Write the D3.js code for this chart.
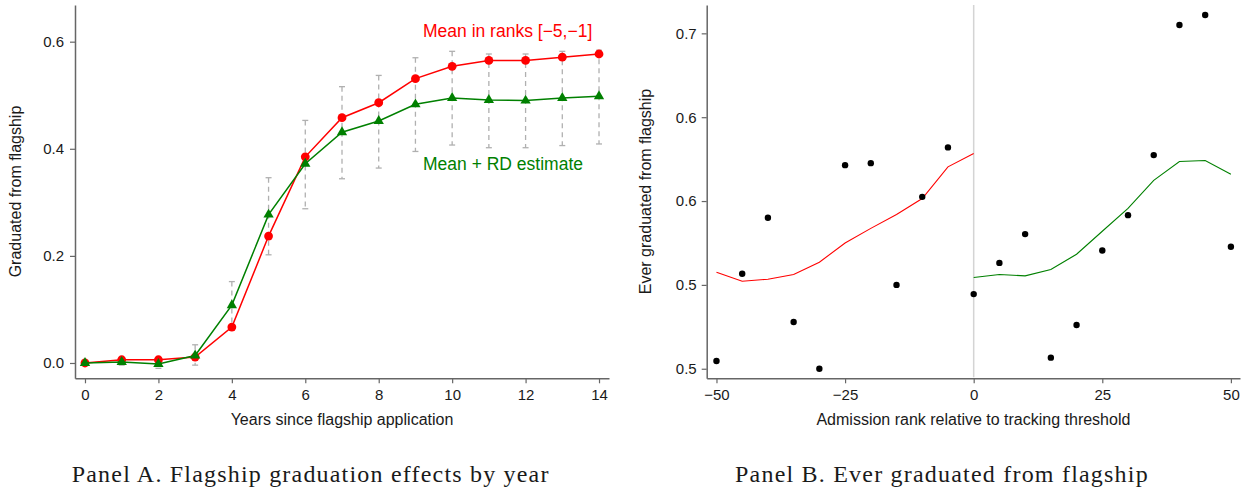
<!DOCTYPE html>
<html>
<head>
<meta charset="utf-8">
<script src="https://cdn.jsdelivr.net/npm/d3@7"></script>
<style>
  html, body { margin: 0; padding: 0; background: #fff; }
  svg { display: block; }
  .tick text { font-family: "Liberation Sans", Arial, sans-serif; font-size: 15px; fill: #1a1a1a; }
  .axis-title { font-family: "Liberation Sans", Arial, sans-serif; font-size: 16px; fill: #1a1a1a; }
  .caption { font-family: "Liberation Serif", "Times New Roman", serif; font-size: 24px; fill: #1a1a1a; }
</style>
</head>
<body>
<svg id="chart" width="1247" height="489"></svg>
<script>
// Panel A: graduation from flagship by years since application
const years = [0, 1, 2, 3, 4, 5, 6, 7, 8, 9, 10, 11, 12, 13, 14];
const meanRanks = [0.000, 0.006, 0.006, 0.011, 0.067, 0.237, 0.385, 0.458, 0.486, 0.531, 0.554, 0.565, 0.565, 0.571, 0.577];
const rdEstimate = [0.000, 0.002, -0.002, 0.014, 0.108, 0.277, 0.372, 0.431, 0.452, 0.483, 0.495, 0.491, 0.490, 0.495, 0.498];
const ciLow = [0.000, -0.004, -0.010, -0.004, 0.064, 0.202, 0.288, 0.344, 0.364, 0.395, 0.407, 0.402, 0.402, 0.406, 0.409];
const ciHigh = [0.000, 0.008, 0.006, 0.034, 0.152, 0.346, 0.453, 0.516, 0.537, 0.570, 0.582, 0.577, 0.577, 0.582, 0.584];
const yearTicks = [0, 2, 4, 6, 8, 10, 12, 14];
const shareTicksA = [0, 0.2, 0.4, 0.6];

// Panel B: ever graduated, binned by admission rank
const ranks = [-50, -45, -40, -35, -30, -25, -20, -15, -10, -5, 0, 5, 10, 15, 20, 25, 30, 35, 40, 45, 50];
const gradShare = [0.4546, 0.5066, 0.5400, 0.4779, 0.4500, 0.5714, 0.5726, 0.5000, 0.5525, 0.5820,
                   0.4945, 0.5131, 0.5303, 0.4566, 0.4761, 0.5205, 0.5416, 0.5774, 0.6550, 0.6609, 0.5227];
const fitLeftX = [-50, -45, -40, -35, -30, -25, -20, -15, -10, -5, 0];
const fitLeft = [0.5076, 0.5022, 0.5034, 0.5062, 0.5135, 0.5250, 0.5337, 0.5420, 0.5515, 0.5704, 0.5784];
const fitRightX = [0, 5, 10, 15, 20, 25, 30, 35, 40, 45, 50];
const fitRight = [0.5044, 0.5062, 0.5054, 0.5092, 0.5183, 0.5320, 0.5456, 0.5623, 0.5736, 0.5742, 0.5660];
const rankTicks = [-50, -25, 0, 25, 50];
const shareTicksB = [0.45, 0.50, 0.55, 0.60, 0.65];
const shareTickLabelsB = ["0.5", "0.5", "0.6", "0.6", "0.7"];

const RED = "#ff0000", GREEN = "#008000", AXIS = "#666666";
const svg = d3.select("#chart");
const minus = s => String(s).replace("-", "\u2212");

function styleAxis(g) {
  g.select(".domain").attr("stroke", AXIS).attr("stroke-width", 1.5);
  g.selectAll(".tick line").attr("stroke", AXIS).attr("stroke-width", 1.2);
}

// ---------- Panel A ----------
const xA = d3.scaleLinear().domain([-0.272, 14.272]).range([75, 609]);
const yA = d3.scaleLinear().domain([-0.0286, 0.6685]).range([378.3, 5]);
const gA = svg.append("g");

gA.append("g").attr("transform", "translate(0,378.3)")
  .call(d3.axisBottom(xA).tickValues(yearTicks).tickSize(5).tickPadding(6).tickSizeOuter(0))
  .call(styleAxis);
gA.append("g").attr("transform", "translate(75,0)")
  .call(d3.axisLeft(yA).tickValues(shareTicksA).tickFormat(d3.format(".1f")).tickSize(5).tickPadding(6).tickSizeOuter(0))
  .call(styleAxis);

// confidence intervals around the RD estimate
const ci = years.map((t, i) => ({ t, lo: ciLow[i], hi: ciHigh[i] })).filter(d => d.hi > d.lo);
const ciG = gA.append("g").attr("stroke", "#b0b0b0").attr("stroke-width", 1.3).attr("fill", "none");
ciG.selectAll("line.bar").data(ci).join("line").attr("class", "bar")
  .attr("x1", d => xA(d.t)).attr("x2", d => xA(d.t))
  .attr("y1", d => yA(d.hi)).attr("y2", d => yA(d.lo))
  .attr("stroke-dasharray", "5,4");
ciG.selectAll("line.capHi").data(ci).join("line").attr("class", "capHi")
  .attr("x1", d => xA(d.t) - 3).attr("x2", d => xA(d.t) + 3)
  .attr("y1", d => yA(d.hi)).attr("y2", d => yA(d.hi));
ciG.selectAll("line.capLo").data(ci).join("line").attr("class", "capLo")
  .attr("x1", d => xA(d.t) - 3).attr("x2", d => xA(d.t) + 3)
  .attr("y1", d => yA(d.lo)).attr("y2", d => yA(d.lo));

const lineA = d3.line().x(d => xA(d[0])).y(d => yA(d[1]));
const redPts = years.map((t, i) => [t, meanRanks[i]]);
const greenPts = years.map((t, i) => [t, rdEstimate[i]]);

gA.append("path").attr("d", lineA(redPts)).attr("fill", "none").attr("stroke", RED).attr("stroke-width", 1.5);
gA.selectAll("circle.mean").data(redPts).join("circle").attr("class", "mean")
  .attr("cx", d => xA(d[0])).attr("cy", d => yA(d[1])).attr("r", 4.4).attr("fill", RED);

gA.append("path").attr("d", lineA(greenPts)).attr("fill", "none").attr("stroke", GREEN).attr("stroke-width", 1.5);
const tri = d3.symbol().type(d3.symbolTriangle).size(46);
gA.selectAll("path.rd").data(greenPts).join("path").attr("class", "rd")
  .attr("d", tri).attr("transform", d => `translate(${xA(d[0])},${yA(d[1])})`).attr("fill", GREEN);

gA.append("text").attr("x", 423).attr("y", 37).attr("fill", RED)
  .style("font-family", "'Liberation Sans', Arial, sans-serif").style("font-size", "17.5px")
  .text("Mean in ranks [\u22125,\u22121]");
gA.append("text").attr("x", 423).attr("y", 170).attr("fill", GREEN)
  .style("font-family", "'Liberation Sans', Arial, sans-serif").style("font-size", "17.5px")
  .text("Mean + RD estimate");

gA.append("text").attr("class", "axis-title").attr("x", 342).attr("y", 425).attr("text-anchor", "middle")
  .text("Years since flagship application");
gA.append("text").attr("class", "axis-title").attr("text-anchor", "middle")
  .attr("transform", "translate(21,191.5) rotate(-90)").text("Graduated from flagship");

// ---------- Panel B ----------
const xB = d3.scaleLinear().domain([-51.9, 51.77]).range([706.7, 1240]);
const yB = d3.scaleLinear().domain([0.4443, 0.6669]).range([378.3, 5]);
const gB = svg.append("g");

gB.append("g").attr("transform", "translate(0,378.3)")
  .call(d3.axisBottom(xB).tickValues(rankTicks).tickFormat(minus).tickSize(5).tickPadding(6).tickSizeOuter(0))
  .call(styleAxis);
gB.append("g").attr("transform", "translate(706.7,0)")
  .call(d3.axisLeft(yB).tickValues(shareTicksB).tickFormat((d, i) => shareTickLabelsB[i]).tickSize(5).tickPadding(5).tickSizeOuter(0))
  .call(styleAxis);

// threshold marker
gB.append("line").attr("x1", xB(0)).attr("x2", xB(0)).attr("y1", yB.range()[1]).attr("y2", yB.range()[0] - 1)
  .attr("stroke", "#d4d4d4").attr("stroke-width", 1.5);

const lineB = d3.line().x(d => xB(d[0])).y(d => yB(d[1]));
gB.append("path").attr("d", lineB(fitLeftX.map((r, i) => [r, fitLeft[i]])))
  .attr("fill", "none").attr("stroke", RED).attr("stroke-width", 1.1);
gB.append("path").attr("d", lineB(fitRightX.map((r, i) => [r, fitRight[i]])))
  .attr("fill", "none").attr("stroke", GREEN).attr("stroke-width", 1.1);

gB.selectAll("circle.bin").data(ranks.map((r, i) => [r, gradShare[i]])).join("circle").attr("class", "bin")
  .attr("cx", d => xB(d[0])).attr("cy", d => yB(d[1])).attr("r", 3.2).attr("fill", "#000");

gB.append("text").attr("class", "axis-title").attr("x", 973.4).attr("y", 425).attr("text-anchor", "middle")
  .text("Admission rank relative to tracking threshold");
gB.append("text").attr("class", "axis-title").attr("text-anchor", "middle")
  .attr("transform", "translate(651,191.5) rotate(-90)").text("Ever graduated from flagship");

// ---------- captions ----------
svg.append("text").attr("class", "caption").attr("x", 71.7).attr("y", 481.7)
  .attr("textLength", 476.7).attr("lengthAdjust", "spacing")
  .text("Panel A. Flagship graduation effects by year");
svg.append("text").attr("class", "caption").attr("x", 735).attr("y", 481.7)
  .attr("textLength", 412.7).attr("lengthAdjust", "spacing")
  .text("Panel B. Ever graduated from flagship");
</script>
</body>
</html>
